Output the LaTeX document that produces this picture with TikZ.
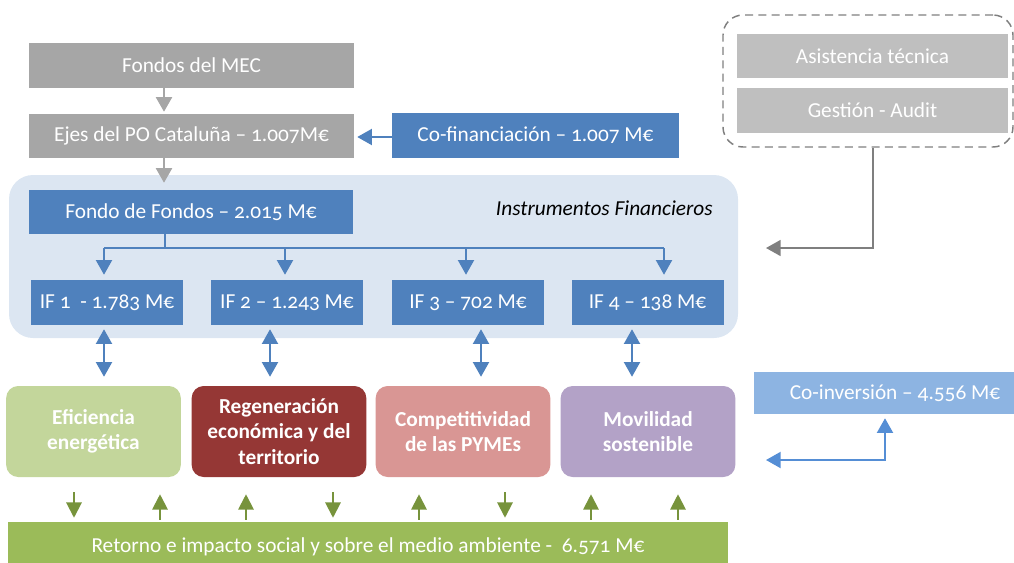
\documentclass[tikz,border=0pt]{standalone}
\usepackage{fontspec}
\setmainfont{Carlito}[Numbers=OldStyle]
\usetikzlibrary{arrows.meta,calc}
\definecolor{cgrey}{HTML}{A6A6A6}
\definecolor{clgrey}{HTML}{BFBFBF}
\definecolor{cdgrey}{HTML}{7F7F7F}
\definecolor{cblue}{HTML}{4F81BD}
\definecolor{cbg}{HTML}{DCE6F2}
\definecolor{ccoinv}{HTML}{8DB4E2}
\definecolor{ccoarr}{HTML}{558ED5}
\definecolor{ceff}{HTML}{C3D69B}
\definecolor{creg}{HTML}{953735}
\definecolor{ccomp}{HTML}{D99694}
\definecolor{cmov}{HTML}{B3A2C7}
\definecolor{cret}{HTML}{9BBB59}
\definecolor{cgarr}{HTML}{77933C}
\newcommand{\mainfs}{\fontsize{16}{19}\selectfont}
\begin{document}
\begin{tikzpicture}[x=0.75pt,y=-0.75pt,
  box/.style={inner sep=0pt, text=white, font=\mainfs, align=center},
  greybox/.style={box, fill=cgrey},
  lgreybox/.style={box, fill=clgrey},
  bluebox/.style={box, fill=cblue},
  themebox/.style={box, font=\mainfs\bfseries, rounded corners=9pt, minimum width=131pt, minimum height=68.25pt},
  tipA/.tip={Triangle[width=12pt,length=11pt]},
  tipG/.tip={Triangle[width=11.5pt,length=11.5pt]},
  greyarr/.style={draw=cgrey, line width=1.8pt, -tipA},
  darkarr/.style={draw=cdgrey, line width=1.3pt, -tipA},
  bluearr/.style={draw=cblue, line width=1.5pt, -tipA},
  blueline/.style={draw=cblue, line width=1.5pt},
  dblarr/.style={draw=cblue, line width=1.5pt, tipA-tipA},
  coarr/.style={draw=ccoarr, line width=1.5pt, tipA-tipA},
  garr/.style={draw=cgarr, line width=1.5pt, -tipG}]
\useasboundingbox (0,0) rectangle (1014,562);

% top chain
\node[greybox, minimum width=243.75pt, minimum height=33.75pt] (mec) at (191.5,65.5) {Fondos del MEC};
\node[greybox, minimum width=243.75pt, minimum height=33pt] (ejes) at (191.5,136) {Ejes del PO Cataluña – 1.007M€};
\node[bluebox, minimum width=215.25pt, minimum height=33.75pt] (cofin) at (535.5,135.5) {Co-financiación – 1.007 M€};

% instrumentos financieros background
\node[fill=cbg, rounded corners=18pt, inner sep=0pt, minimum width=546.75pt, minimum height=122.25pt] (ifbg) at (373.5,256.5) {};
\node[anchor=east, font=\mainfs\itshape, text=black, inner sep=0pt] (iflabel) at (713,208) {Instrumentos Financieros};
\node[bluebox, minimum width=243pt, minimum height=33pt] (fdf) at (191,212) {Fondo de Fondos – 2.015 M€};

\node[bluebox, minimum width=114pt, minimum height=33.75pt] (if1) at (107,302.5) {IF 1 \ - 1.783 M€};
\node[bluebox, minimum width=114pt, minimum height=33.75pt] (if2) at (287,302.5) {IF 2 – 1.243 M€};
\node[bluebox, minimum width=114pt, minimum height=33.75pt] (if3) at (468,302.5) {IF 3 – 702 M€};
\node[bluebox, minimum width=114pt, minimum height=33.75pt] (if4) at (647.5,302.5) {IF 4 – 138 M€};

% technical assistance
\node[draw=cdgrey, dash pattern=on 6pt off 4pt, line width=1.1pt, rounded corners=15pt, minimum width=217.5pt, minimum height=99pt, inner sep=0pt] (ta) at (868,81) {};
\node[lgreybox, minimum width=203.25pt, minimum height=33pt] (asis) at (872.5,56) {Asistencia técnica};
\node[lgreybox, minimum width=203.25pt, minimum height=33.75pt] (gest) at (872.5,110.5) {Gestión - Audit};

% theme boxes
\node[themebox, fill=ceff] (eff) at (93.5,431.5) {Eficiencia\\energética};
\node[themebox, fill=creg] (reg) at (279,431.5) {Regeneración\\económica y del\\territorio};
\node[themebox, fill=ccomp] (comp) at (463,431.5) {Competitividad\\de las PYMEs};
\node[themebox, fill=cmov] (mov) at (648,431.5) {Movilidad\\sostenible};

\node[box, fill=ccoinv, minimum width=211.5pt, minimum height=31.5pt] (coinv) at (895,393) {Co-inversión – 4.556 M€};
\node[box, fill=cret, minimum width=540pt, minimum height=37.5pt] (ret) at (368,547) {Retorno e impacto social y sobre el medio ambiente - \ 6.571 M€};

% connectors top
\draw[greyarr, shorten >=1.5pt] (164,0 |- mec.south) -- (164,0 |- ejes.north);
\draw[greyarr, shorten >=5.25pt] (164,0 |- ejes.south) -- (164,0 |- fdf.north);
\draw[bluearr, shorten >=2.25pt] (cofin.west |- 0,137) -- (ejes.east |- 0,137);

% bus
\coordinate (b1) at (104,248);
\coordinate (b2) at (285,248);
\coordinate (b3) at (466,248);
\coordinate (b4) at (664,248);
\draw[blueline] (165,0 |- fdf.south) -- (165,248);
\draw[blueline] (b1) -- (b4);
\draw[bluearr, shorten >=3.75pt] (b1) -- (b1 |- if1.north);
\draw[bluearr, shorten >=3.75pt] (b2) -- (b2 |- if2.north);
\draw[bluearr, shorten >=3.75pt] (b3) -- (b3 |- if3.north);
\draw[bluearr, shorten >=3.75pt] (b4) -- (b4 |- if4.north);

% double arrows
\draw[dblarr, shorten <=3pt, shorten >=6.75pt] (104,0 |- if1.south) -- (104,0 |- eff.north);
\draw[dblarr, shorten <=3pt, shorten >=6.75pt] (270,0 |- if2.south) -- (270,0 |- reg.north);
\draw[dblarr, shorten <=3pt, shorten >=6.75pt] (481,0 |- if3.south) -- (481,0 |- comp.north);
\draw[dblarr, shorten <=3pt, shorten >=6.75pt] (632,0 |- if4.south) -- (632,0 |- mov.north);

% technical assistance arrow
\coordinate (gtip) at (766,248);
\draw[darkarr] (873,0 |- ta.south) |- (gtip);

% co-inversion arrow
\coordinate (citip) at (766,460);
\draw[coarr, shorten >=3pt] (citip) -| (885,0 |- coinv.south);

% green arrows
\draw[garr, shorten <=11.25pt, shorten >=3pt] (74,0 |- eff.south) -- (74,0 |- ret.north);
\draw[garr, shorten <=1.5pt, shorten >=12.75pt] (160,0 |- ret.north) -- (160,0 |- eff.south);
\draw[garr, shorten <=1.5pt, shorten >=12.75pt] (246,0 |- ret.north) -- (246,0 |- reg.south);
\draw[garr, shorten <=11.25pt, shorten >=3pt] (333,0 |- reg.south) -- (333,0 |- ret.north);
\draw[garr, shorten <=1.5pt, shorten >=12.75pt] (419,0 |- ret.north) -- (419,0 |- comp.south);
\draw[garr, shorten <=11.25pt, shorten >=3pt] (505,0 |- comp.south) -- (505,0 |- ret.north);
\draw[garr, shorten <=1.5pt, shorten >=12.75pt] (591,0 |- ret.north) -- (591,0 |- mov.south);
\draw[garr, shorten <=1.5pt, shorten >=12.75pt] (678,0 |- ret.north) -- (678,0 |- mov.south);
\end{tikzpicture}
\end{document}
